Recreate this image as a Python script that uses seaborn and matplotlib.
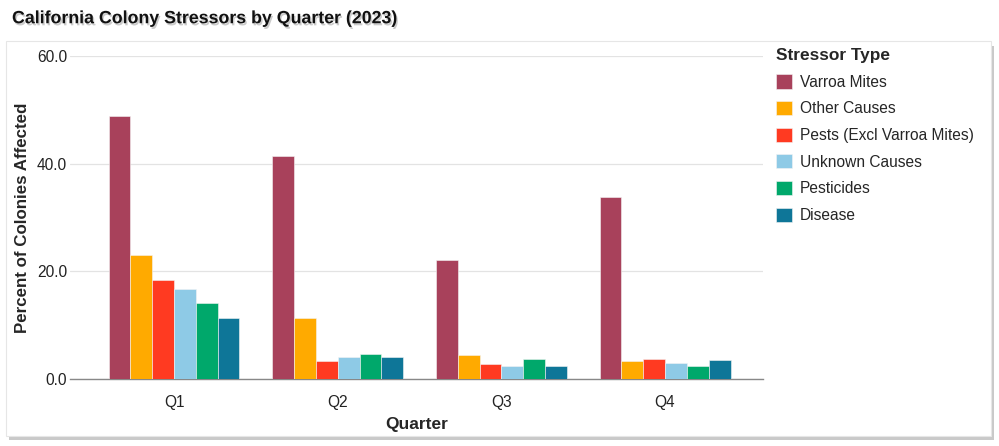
import pandas as pd
import matplotlib.pyplot as plt
import matplotlib.patheffects as pe
from matplotlib.patches import FancyBboxPatch
import seaborn as sns

# ------------------ DATOS ------------------

quarters = ["Q1", "Q2", "Q3", "Q4"]
stressors = ["Varroa Mites", "Other Causes", "Pests (Excl Varroa Mites)",
             "Unknown Causes", "Pesticides", "Disease"]

varroa = [48.9, 41.4, 22.2, 33.8]
other = [23.0, 11.4, 4.5, 3.3]
pests = [18.3, 3.4, 2.7, 3.8]
unknown = [16.7, 4.1, 2.4, 3.0]
pesticides = [14.2, 4.6, 3.7, 2.4]
disease = [11.4, 4.1, 2.4, 3.5]

colores = ["#A8415B", "#FFAA00", "#FF3A21", "#8ECAE6", "#00A86B", "#0E7698"]

valores = [varroa, other, pests, unknown, pesticides, disease]
datos = []
for s, vals in zip(stressors, valores):
    for q, v in zip(quarters, vals):
        datos.append({"Quarter": q, "Stressor Type": s, "Percent": v})
df = pd.DataFrame(datos)

# ------------------ GRAFICO ------------------

sns.set_theme(style="white")
plt.rcParams["font.family"] = ["Liberation Sans", "DejaVu Sans"]

fig = plt.figure(figsize=(9.99, 4.46), dpi=100)
fig.patch.set_facecolor("white")

# tarjeta con sombra (detras de los ejes)
card = FancyBboxPatch((0.006, 0.022), 0.986, 0.885, boxstyle="square,pad=0",
                      transform=fig.transFigure, facecolor="white",
                      edgecolor="#e6e6e6", linewidth=0.8, zorder=-10,
                      path_effects=[pe.SimplePatchShadow(offset=(2, -3), shadow_rgbFace="#888888", alpha=0.45),
                                    pe.Normal()])
fig.patches.append(card)

ax = fig.add_axes([0.070, 0.1502, 0.6937, 0.7242])
ax.set_facecolor("none")

sns.barplot(data=df, x="Quarter", y="Percent", hue="Stressor Type",
            order=quarters, hue_order=stressors,
            palette=dict(zip(stressors, colores)), width=0.8,
            saturation=1, linewidth=0.4, edgecolor="#f4f4f4", ax=ax, zorder=3)

ax.set_xlim(-0.636, 3.598)
ax.set_ylim(0, 60)
ax.set_yticks([0, 20, 40, 60])
ax.set_yticklabels([f"{t:.1f}" for t in [0, 20, 40, 60]])
ax.grid(axis="y", color="#e3e3e3", linewidth=0.9, zorder=0)
ax.set_axisbelow(True)

for s in ["top", "right", "left"]:
    ax.spines[s].set_visible(False)
ax.spines["bottom"].set_color("#888888")
ax.spines["bottom"].set_linewidth(1)

ax.tick_params(axis="y", length=0, labelsize=11.2, pad=2, labelcolor="#222222")
ax.tick_params(axis="x", length=4, color="#cccccc", labelsize=11.2, pad=7.6, labelcolor="#222222")

ax.set_xlabel("Quarter", fontsize=12.5, fontweight="bold", labelpad=4.7)
ax.set_ylabel("Percent of Colonies Affected", fontsize=12.2, fontweight="bold", labelpad=5)

ax.legend(title="Stressor Type", loc="upper left", bbox_to_anchor=(0.7765, 0.892),
          bbox_transform=fig.transFigure, frameon=False, fontsize=11.2,
          title_fontproperties={"weight": "bold", "size": 12.4},
          handlelength=1.03, handleheight=1.03, handletextpad=0.5,
          labelspacing=0.72, alignment="left", borderaxespad=0, borderpad=0)

fig.text(0.012, 0.958, "California Colony Stressors by Quarter (2023)",
         fontsize=12.8, fontweight="bold", va="center", ha="left", color="#111111",
         path_effects=[pe.withSimplePatchShadow(offset=(1, -1.5), shadow_rgbFace="#999999", alpha=0.5)])

fig.savefig("out.png", dpi=100)
plt.close()
